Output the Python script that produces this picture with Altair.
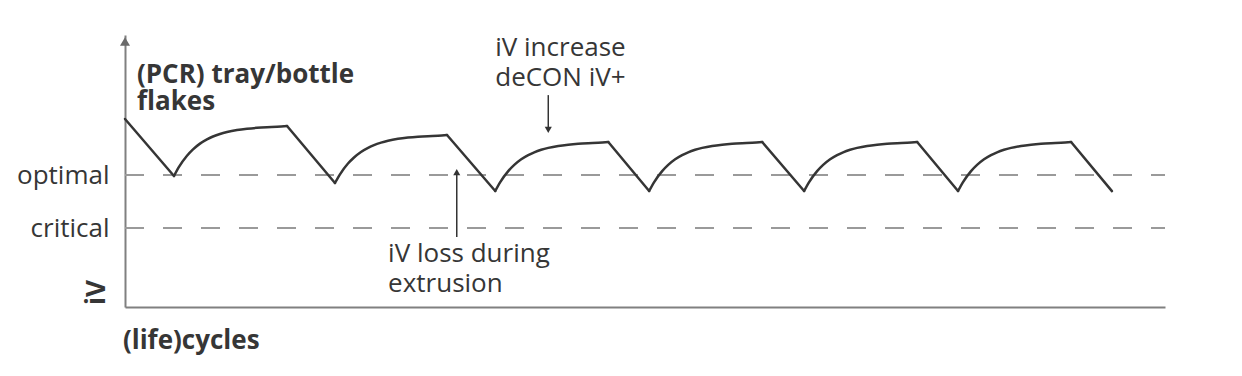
import altair as alt
import pandas as pd

# ---- data (arbitrary units 0-100 on both axes) ----
start_x, start_iv = [0.0], [69.1]

rise1_x = [4.71, 5.19, 5.96, 6.54, 7.21, 7.88, 8.46, 9.13, 9.81, 10.77, 11.73, 12.69, 13.65, 14.62, 15.58]
rise1_iv = [48.16, 51.49, 55.61, 57.94, 60.06, 61.64, 62.68, 63.62, 64.34, 65.07, 65.55, 65.88, 66.10, 66.25, 66.54]

rise2_x = [20.19, 20.67, 21.44, 22.02, 22.69, 23.37, 23.94, 24.62, 25.29, 26.25, 27.21, 28.17, 29.13, 30.10, 30.96]
rise2_iv = [45.59, 48.78, 52.74, 54.98, 57.01, 58.52, 59.53, 60.43, 61.12, 61.82, 62.28, 62.60, 62.81, 62.95, 63.24]

rise3_x = [35.60, 36.08, 36.85, 37.43, 38.10, 38.77, 39.35, 40.02, 40.70, 41.66, 42.62, 43.58, 44.54, 45.50, 46.47]
rise4_x = [50.40, 50.88, 51.65, 52.23, 52.90, 53.57, 54.15, 54.82, 55.50, 56.46, 57.42, 58.38, 59.34, 60.30, 61.27]
rise5_x = [65.30, 65.78, 66.55, 67.13, 67.80, 68.47, 69.05, 69.72, 70.40, 71.36, 72.32, 73.28, 74.24, 75.20, 76.17]
rise6_x = [80.10, 80.58, 81.35, 81.93, 82.60, 83.27, 83.85, 84.52, 85.20, 86.16, 87.12, 88.08, 89.04, 90.00, 90.97]
rise3_iv = [42.65, 45.91, 49.94, 52.23, 54.30, 55.85, 56.88, 57.80, 58.50, 59.22, 59.69, 60.02, 60.23, 60.38, 60.66]
rise4_iv = [42.65, 45.91, 49.94, 52.23, 54.30, 55.85, 56.88, 57.80, 58.50, 59.22, 59.69, 60.02, 60.23, 60.38, 60.66]
rise5_iv = [42.65, 45.91, 49.94, 52.23, 54.30, 55.85, 56.88, 57.80, 58.50, 59.22, 59.69, 60.02, 60.23, 60.38, 60.66]
rise6_iv = [42.65, 45.91, 49.94, 52.23, 54.30, 55.85, 56.88, 57.80, 58.50, 59.22, 59.69, 60.02, 60.23, 60.38, 60.66]

end_x, end_iv = [94.9], [42.6]

rises_x = [rise1_x, rise2_x, rise3_x, rise4_x, rise5_x, rise6_x]
rises_iv = [rise1_iv, rise2_iv, rise3_iv, rise4_iv, rise5_iv, rise6_iv]

level_names = ["optimal", "critical"]
level_values = [48.5, 29.0]

# annotation arrows: x, y start, y tip
arrow_x = [31.9, 40.7]
arrow_y_from = [25.7, 77.9]
arrow_y_tip = [49.6, 65.1]
arrow_shape = ["triangle-up", "triangle-down"]

# text annotations
note_text = ["iV loss during", "extrusion", "iV increase", "deCON iV+",
             "(PCR) tray/bottle", "flakes", "(life)cycles"]
note_x = [25.3, 25.3, 35.6, 35.6, 1.15, 1.15, -0.2]
note_y = [16.6, 5.5, 92.4, 81.4, 82.2, 72.6, -15.6]
note_weight = ["normal", "normal", "normal", "normal", "bold", "bold", "bold"]

y_title = "iV"

FONT = "Open Sans"
FS = 26
TXT = "#363636"
AX = "#808080"

# rising (regeneration) segments: smooth curves
rise_rows = []
for k, (xs_, ys_) in enumerate(zip(rises_x, rises_iv)):
    for j, (a, b) in enumerate(zip(xs_, ys_)):
        rise_rows.append({"seg": k, "x": a, "iv": b, "o": j})
rise_df = pd.DataFrame(rise_rows)

# falling (extrusion) segments: straight lines between peaks and minima
peaks_x = start_x + [r[-1] for r in rises_x]
peaks_iv = start_iv + [r[-1] for r in rises_iv]
mins_x = [r[0] for r in rises_x] + end_x
mins_iv = [r[0] for r in rises_iv] + end_iv
fall_rows = []
for k in range(len(peaks_x)):
    fall_rows.append({"seg": k, "x": peaks_x[k], "iv": peaks_iv[k], "o": 0})
    fall_rows.append({"seg": k, "x": mins_x[k], "iv": mins_iv[k], "o": 1})
fall_df = pd.DataFrame(fall_rows)

levels = pd.DataFrame({"name": level_names, "y": level_values, "x0": 0, "x1": 100})
arrows = pd.DataFrame({"x": arrow_x, "y0": arrow_y_from, "y1": arrow_y_tip, "shape": arrow_shape})
notes = pd.DataFrame({"t": note_text, "x": note_x, "y": note_y, "w": note_weight})

xs = alt.Scale(domain=[0, 100], nice=False, zero=False)
ys = alt.Scale(domain=[0, 100], nice=False, zero=False)

x_axis = alt.Axis(domain=True, domainColor=AX, domainWidth=2, ticks=False, labels=False,
                  grid=False, title=None)
y_axis = alt.Axis(domain=True, domainColor=AX, domainWidth=2, ticks=False, grid=False,
                  title=None, values=level_values,
                  labelExpr="datum.value == %s ? '%s' : '%s'" % (level_values[0], level_names[0], level_names[1]),
                  labelFont=FONT, labelFontSize=FS, labelColor=TXT, labelPadding=16)

base_axes = alt.Chart(fall_df).mark_line(opacity=0).encode(
    x=alt.X("x:Q", scale=xs, axis=x_axis),
    y=alt.Y("iv:Q", scale=ys, axis=y_axis),
)

dashed = alt.Chart(levels).mark_rule(color="#9a9a9a", strokeWidth=2, strokeDash=[19, 19]).encode(
    x=alt.X("x0:Q", scale=xs), x2="x1:Q", y=alt.Y("y:Q", scale=ys)
)

rise_line = alt.Chart(rise_df).mark_line(color="#353535", strokeWidth=2.5, interpolate="monotone",
                                         strokeCap="round").encode(
    x=alt.X("x:Q", scale=xs), y=alt.Y("iv:Q", scale=ys), detail="seg:N", order="o:Q"
)
fall_line = alt.Chart(fall_df).mark_line(color="#353535", strokeWidth=2.5, strokeCap="round").encode(
    x=alt.X("x:Q", scale=xs), y=alt.Y("iv:Q", scale=ys), detail="seg:N", order="o:Q"
)

arrow_lines = alt.Chart(arrows).mark_rule(color="#333333", strokeWidth=1.5).encode(
    x=alt.X("x:Q", scale=xs), y=alt.Y("y0:Q", scale=ys), y2="y1:Q"
)
arrow_heads = alt.Chart(arrows).mark_point(filled=True, color="#333333", size=50, opacity=1).encode(
    x=alt.X("x:Q", scale=xs), y=alt.Y("y1:Q", scale=ys),
    shape=alt.Shape("shape:N", scale=None, legend=None)
)

axis_arrow = alt.Chart(pd.DataFrame({"x": [0], "y": [97.6]})).mark_point(
    shape="triangle-up", filled=True, color="#6a6a6a", size=100, opacity=1
).encode(x=alt.X("x:Q", scale=xs), y=alt.Y("y:Q", scale=ys))

texts_normal = alt.Chart(notes[notes.w == "normal"]).mark_text(
    align="left", baseline="alphabetic", font=FONT, fontSize=FS, color=TXT
).encode(x=alt.X("x:Q", scale=xs), y=alt.Y("y:Q", scale=ys), text="t:N")

texts_bold = alt.Chart(notes[notes.w == "bold"]).mark_text(
    align="left", baseline="alphabetic", font=FONT, fontSize=FS, fontWeight="bold", color=TXT
).encode(x=alt.X("x:Q", scale=xs), y=alt.Y("y:Q", scale=ys), text="t:N")

ytitle = alt.Chart(pd.DataFrame({"t": [y_title], "x": [-1.9], "y": [5.3]})).mark_text(
    align="center", baseline="alphabetic", angle=270, font=FONT, fontSize=FS,
    fontWeight="bold", color=TXT
).encode(x=alt.X("x:Q", scale=xs), y=alt.Y("y:Q", scale=ys), text="t:N")

chart = alt.layer(
    base_axes, dashed, rise_line, fall_line, arrow_lines, arrow_heads, axis_arrow,
    texts_normal, texts_bold, ytitle
).properties(
    width=1040, height=272,
    autosize=alt.AutoSizeParams(type="none"),
    padding={"left": 117, "top": 27, "right": 69, "bottom": 61},
).configure(background="white").configure_view(strokeWidth=0, stroke="transparent")

chart.save("out.html", embed_options={"renderer": "svg", "actions": False})
